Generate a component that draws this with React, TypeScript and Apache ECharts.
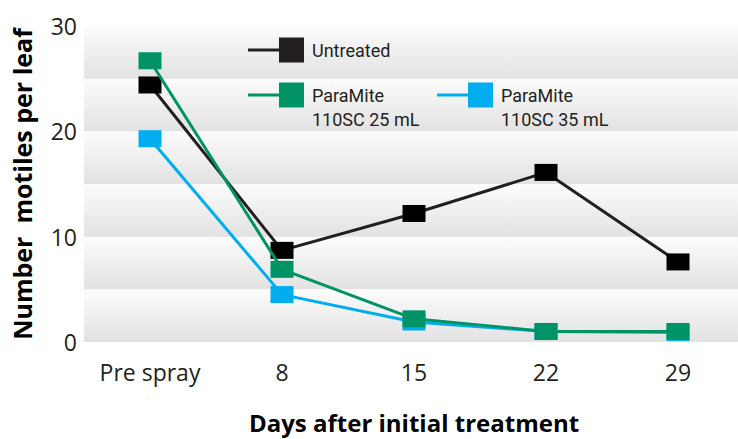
import React, { useEffect, useRef } from "react";
import * as echarts from "echarts";

const categories = ["Pre spray", "8", "15", "22", "29"];
const untreated = [24.4, 8.7, 12.2, 16.1, 7.6];
const pm25 = [26.7, 6.9, 2.2, 1.0, 1.0];
const pm35 = [19.3, 4.5, 1.9, 1.0, 0.9];
const yTicks = [0, 10, 20, 30];
const legendNames = ["Untreated", "ParaMite\n110SC 25 mL", "ParaMite\n110SC 35 mL"];
const lineColors = ["#231f20", "#009366", "#00aeef"];
const markerColors = ["#000000", "#009366", "#00aeef"];

export default function App() {
  const ref = useRef<HTMLDivElement>(null);
  useEffect(() => {
    document.body.style.margin = "0";
    if (!ref.current) return;
    const chart = echarts.init(ref.current, null, { renderer: "svg" });
    const band = new echarts.graphic.LinearGradient(0, 0, 0, 1, [
      { offset: 0, color: "#fcfcfc" },
      { offset: 1, color: "#e2e2e2" },
    ]);
    const mkSeries = (name: string, data: number[], i: number, z: number) => ({
      name,
      type: "line",
      data,
      z,
      symbol: "rect",
      symbolSize: [23, 17],
      lineStyle: { color: lineColors[i], width: 3 },
      itemStyle: { color: markerColors[i] },
      emphasis: { disabled: true },
    });
    const legendItems: any[] = [];
    const legendPos = [
      { x: 248, y: 50 },
      { x: 248, y: 95 },
      { x: 437, y: 95 },
    ];
    legendNames.forEach((n, i) => {
      const p = legendPos[i];
      legendItems.push({
        type: "line",
        z: 100,
        shape: { x1: p.x, y1: p.y, x2: p.x + 32, y2: p.y },
        style: { stroke: lineColors[i], lineWidth: 3 },
      });
      legendItems.push({
        type: "rect",
        z: 101,
        shape: { x: p.x + 31, y: p.y - 12.5, width: 25, height: 25 },
        style: { fill: i === 0 ? "#231f20" : markerColors[i] },
      });
      legendItems.push({
        type: "text",
        z: 101,
        x: p.x + 64,
        y: p.y - 12,
        style: {
          text: n,
          fill: "#231f20",
          fontFamily: "Roboto",
          fontSize: 18,
          lineHeight: 24,
          verticalAlign: "top",
        },
      });
    });
    chart.setOption({
      animation: false,
      grid: { left: 84, right: -6, top: 26, bottom: 97, outerBoundsMode: "none", containLabel: false },
      xAxis: {
        type: "category",
        data: categories,
        boundaryGap: true,
        axisLine: { show: false },
        axisTick: { show: false },
        axisLabel: {
          interval: 0,
          margin: 18,
          fontFamily: "Open Sans",
          fontSize: 23,
          color: "#231f20",
        },
        name: "Days after initial treatment",
        nameLocation: "middle",
        nameGap: 68,
        nameTextStyle: {
          fontFamily: "Open Sans",
          fontWeight: "bold",
          fontSize: 24,
          color: "#000",
        },
      },
      yAxis: {
        type: "value",
        min: 0,
        max: 30,
        interval: 5,
        axisLine: { show: false },
        axisTick: { show: false },
        splitLine: { show: false },
        splitArea: { show: true, areaStyle: { color: [band] } },
        axisLabel: {
          margin: 7,
          fontFamily: "Open Sans",
          fontSize: 23,
          color: "#231f20",
          formatter: (v: number) => (yTicks.includes(v) ? String(v) : ""),
        },
        name: "Number\u00a0\u00a0motiles per leaf",
        nameLocation: "middle",
        nameGap: 50,
        nameRotate: 90,
        nameTextStyle: {
          fontFamily: "Open Sans",
          fontWeight: "bold",
          fontSize: 25,
          color: "#000",
        },
      },
      series: [
        mkSeries("ParaMite 110SC 35 mL", pm35, 2, 2),
        mkSeries("Untreated", untreated, 0, 3),
        mkSeries("ParaMite 110SC 25 mL", pm25, 1, 4),
      ],
      graphic: { elements: legendItems },
    });
    return () => chart.dispose();
  }, []);
  return <div ref={ref} style={{ width: 738, height: 439 }} />;
}
